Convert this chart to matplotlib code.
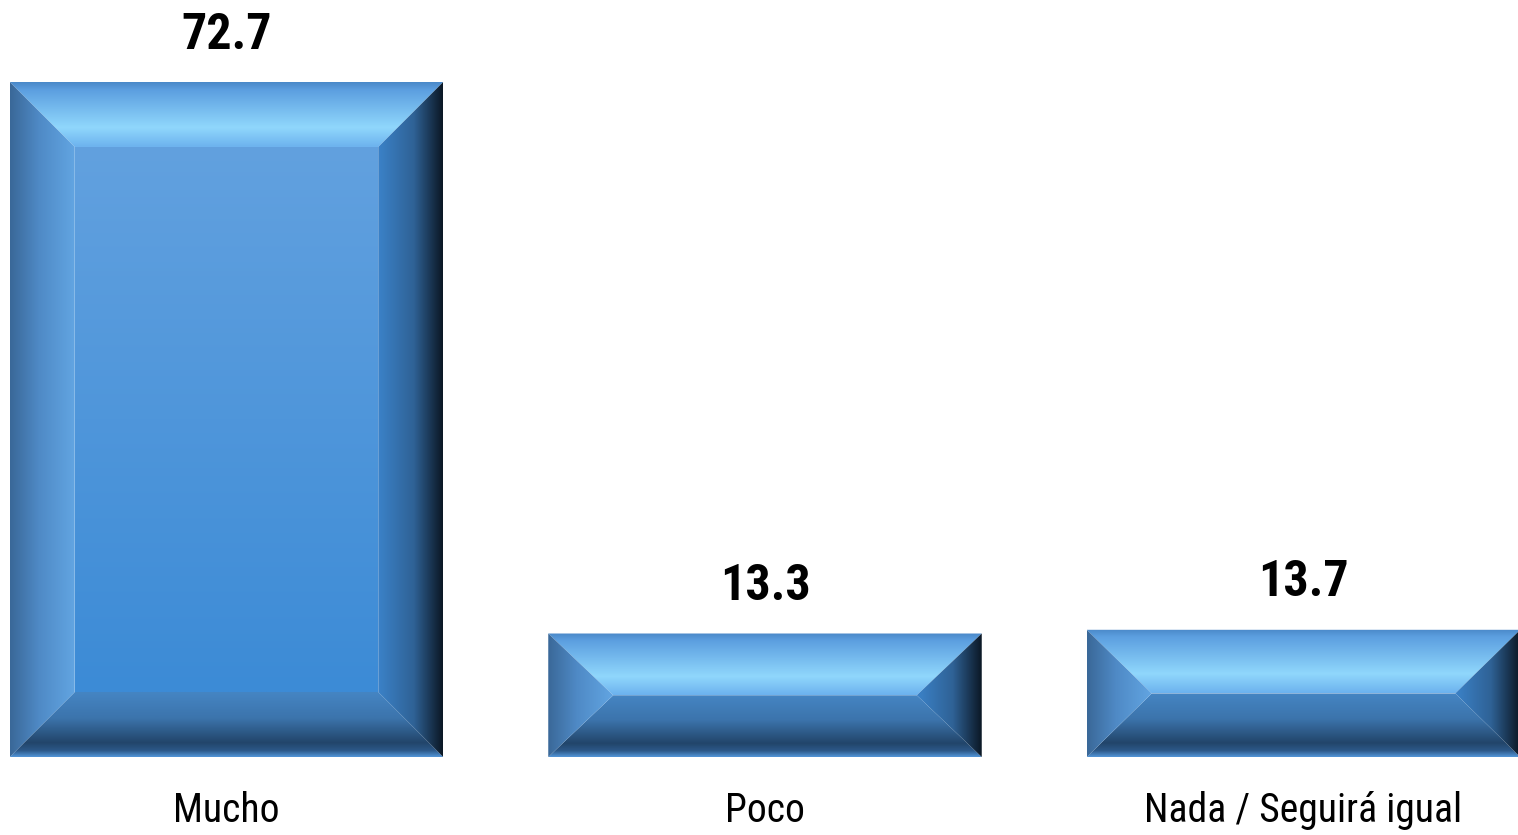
import numpy as np
import matplotlib
matplotlib.use('Agg')
import matplotlib.pyplot as plt
from matplotlib.colors import LinearSegmentedColormap
from matplotlib.patches import Polygon

plt.rcParams['font.family'] = ['Roboto Condensed', 'DejaVu Sans']

# datos
categorias = ['Mucho', 'Poco', 'Nada / Seguirá igual']
valores = [72.7, 13.3, 13.7]

W, H = 1518, 835
fig = plt.figure(figsize=(W / 100, H / 100), dpi=100)
ax = fig.add_axes([0.0, (H - 757) / H, 1.0, 757 / H])

paso = 538.5            # px entre centros
escala = 9.285          # px por unidad
ax.set_xlim(-226.5 / paso, (W - 226.5) / paso)
ax.set_ylim(0, 757 / escala)

ancho = 0.805
x = np.arange(len(valores))
barras = ax.bar(x, valores, width=ancho, color='none', edgecolor='none')

# colores del bisel
c_arriba = LinearSegmentedColormap.from_list('arriba', [(0, '#4a88c8'), (0.12, '#5c9fe0'), (0.7, '#90d7fc'), (1, '#6cb2ee')])
c_abajo = LinearSegmentedColormap.from_list('abajo', [(0, '#4585c3'), (0.4, '#3c74ac'), (0.78, '#22456a'), (0.9, '#2c5888'), (1, '#5396d8')])
c_izq = LinearSegmentedColormap.from_list('izq', [(0, '#3a6898'), (0.45, '#4f8ac6'), (1, '#62a5e2')])
c_der = LinearSegmentedColormap.from_list('der', [(0, '#3b82c8'), (0.55, '#2f6296'), (1, '#0b1724')])
c_centro = LinearSegmentedColormap.from_list('centro', ['#62a1df', '#3c8bd6'])


def degradado(cmap, extent, vertical, poly):
    g = np.linspace(0, 1, 256)
    img = g.reshape(-1, 1) if vertical else g.reshape(1, -1)
    im = ax.imshow(img, cmap=cmap, extent=extent, origin='upper', aspect='auto',
                   interpolation='bilinear', zorder=2)
    p = Polygon(poly, closed=True, transform=ax.transData, facecolor='none', edgecolor='none')
    ax.add_patch(p)
    im.set_clip_path(p)


bx = 65 / paso
for b in barras:
    x0 = b.get_x()
    x1 = x0 + b.get_width()
    y1 = b.get_height()
    by = min(65 / escala, y1 / 2)
    # cara central
    if y1 - 2 * by > 0:
        degradado(c_centro, [x0 + bx, x1 - bx, by, y1 - by], True,
                  [(x0 + bx, by), (x1 - bx, by), (x1 - bx, y1 - by), (x0 + bx, y1 - by)])
    # arriba
    degradado(c_arriba, [x0, x1, y1 - by, y1], True,
              [(x0, y1), (x1, y1), (x1 - bx, y1 - by), (x0 + bx, y1 - by)])
    # abajo
    degradado(c_abajo, [x0, x1, 0, by], True,
              [(x0, 0), (x1, 0), (x1 - bx, by), (x0 + bx, by)])
    # izquierda
    degradado(c_izq, [x0, x0 + bx, 0, y1], False,
              [(x0, 0), (x0, y1), (x0 + bx, y1 - by), (x0 + bx, by)])
    # derecha
    degradado(c_der, [x1 - bx, x1, 0, y1], False,
              [(x1, 0), (x1, y1), (x1 - bx, y1 - by), (x1 - bx, by)])

ax.set_xlim(-226.5 / paso, (W - 226.5) / paso)
ax.set_ylim(0, 757 / escala)

for xi, v in zip(x, valores):
    ax.annotate(f'{v:.1f}', (xi, v), xytext=(0, 24), textcoords='offset points',
                ha='center', va='baseline', fontsize=36, fontweight='bold', color='black',
                annotation_clip=False)

for xi, c in zip(x, categorias):
    ax.annotate(c, (xi, 0), xytext=(0, -47), textcoords='offset points',
                ha='center', va='baseline', fontsize=28.5, color='black',
                annotation_clip=False)

ax.set_xticks([])
ax.set_yticks([])
for s in ax.spines.values():
    s.set_visible(False)
ax.patch.set_alpha(0)

fig.savefig('out.png', dpi=100)
